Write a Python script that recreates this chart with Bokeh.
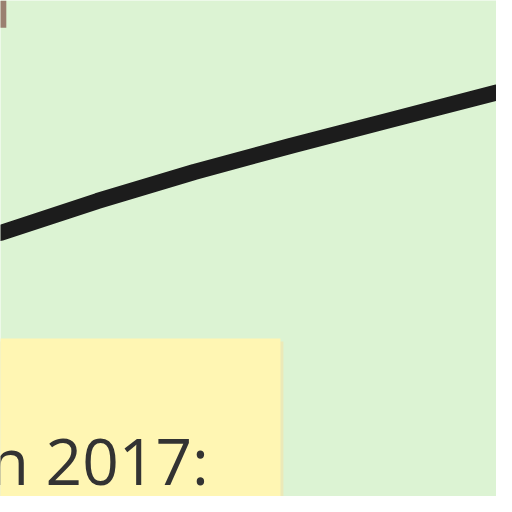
from bokeh.plotting import figure
from bokeh.embed import file_html
from bokeh.resources import INLINE
from bokeh.core.properties import value

# line samples (screen px coordinates of the reference crop)
line_x = [0, 100, 200, 300, 400, 512]
line_y = [240, 207, 177, 150, 124, 95]
label_text = ["n 2017:"]

p = figure(width=496, height=496, output_backend="svg", toolbar_location=None,
           x_range=(0, 512), y_range=(512, 0), min_border=0)
p.axis.visible = False
p.grid.visible = False
p.outline_line_color = None
p.background_fill_color = "#dcf3d3"
p.border_fill_color = "#dcf3d3"

p.line(line_x, line_y, line_width=16, line_color="#1c1c1c", line_cap="round")
p.quad(left=[-10], right=[292], top=[352], bottom=[530], fill_color="#ebe9b8", line_color=None)
p.quad(left=[-10], right=[289], top=[349], bottom=[530], fill_color="#fff6b3", line_color=None)
p.text(x=[215], y=[475], text=label_text, text_align="right", text_baseline="alphabetic",
       text_font=value("Open Sans"), text_font_size="64px", text_color="#333333")
p.quad(left=[-10], right=[6], top=[0], bottom=[28], fill_color="#9a8070", line_color=None)

open("out.html", "w").write(file_html(p, INLINE))
